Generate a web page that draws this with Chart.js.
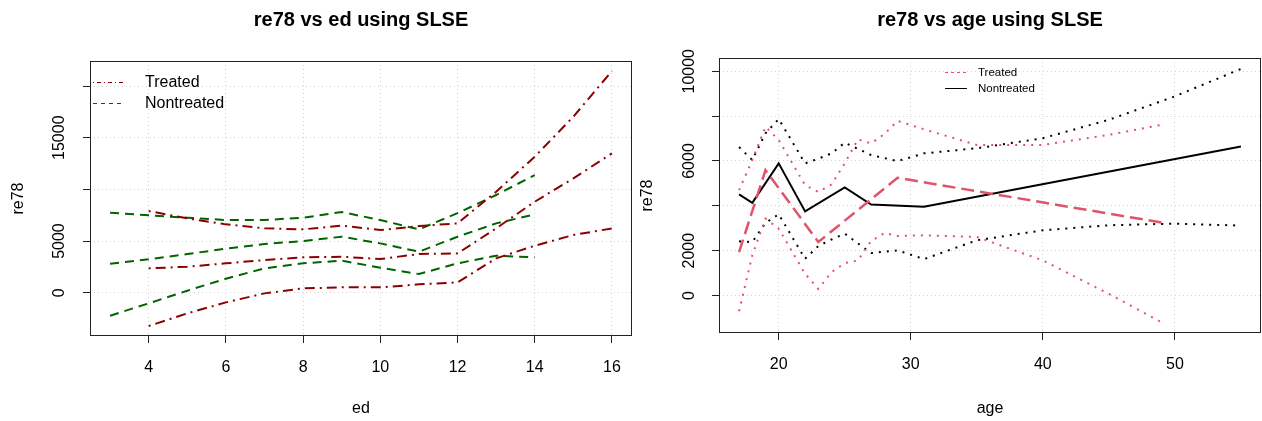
<!DOCTYPE html>
<html>
<head>
<meta charset="utf-8">
<script src="https://cdn.jsdelivr.net/npm/chart.js@4.4.0/dist/chart.umd.min.js"></script>
<style>
  html, body { margin: 0; padding: 0; background: #fff; }
  #wrap { position: relative; width: 1262px; height: 421px; }
  canvas { position: absolute; top: 0; }
</style>
</head>
<body>
<div id="wrap">
  <canvas id="chartEd" width="636" height="421" style="left:0"></canvas>
  <canvas id="chartAge" width="626" height="421" style="left:636px"></canvas>
</div>
<script>
// ---- re78 vs ed ----
const edTreated = [4, 5, 6, 7, 8, 9, 10, 11, 12, 13, 14, 15, 16];
const trEdUpper = [7903, 7194, 6613, 6226, 6129, 6484, 6065, 6452, 6710, 9774, 13161, 17032, 21452];
const trEdMean  = [2355, 2516, 2839, 3161, 3419, 3484, 3258, 3742, 3806, 6226, 8806, 11065, 13484];
const trEdLower = [-3226, -2000, -935, -65, 419, 516, 516, 806, 1000, 3323, 4548, 5581, 6226];

const edNontreated = [3, 4, 5, 6, 7, 8, 9, 10, 11, 12, 13, 14];
const ntEdUpper = [7742, 7484, 7258, 7032, 7032, 7258, 7806, 7032, 6129, 7700, 9452, 11387];
const ntEdMean  = [2806, 3226, 3742, 4258, 4710, 5000, 5419, 4774, 3968, 5419, 6710, 7581];
const ntEdLower = [-2226, -1032, 194, 1355, 2355, 2839, 3097, 2419, 1806, 2839, 3581, 3419];

const edXTicks = [4, 6, 8, 10, 12, 14, 16];
const edYTicks = [0, 5000, 10000, 15000, 20000];
const edYLabelled = [0, 5000, 15000];

// ---- re78 vs age ----
const ageTrCI = [17, 18, 19, 20, 22, 23, 24, 25, 26, 27, 28, 29, 31, 35, 40, 45, 49];
const trAgeUpper = [4698, 6040, 7530, 6935, 4922, 4622, 4952, 5893, 6966, 6786, 7200, 7785, 7413, 6716, 6716, 7164, 7612];
const trAgeLower = [-700, 1800, 3430, 2983, 970, 299, 1044, 1447, 1566, 2431, 2789, 2655, 2685, 2612, 1567, 75, -1194];
const ageTrMean = [17, 19, 23, 29, 49];
const trAgeMean = [1938, 5593, 2386, 5249, 3254];

const ageNtCI = [17, 18, 19, 20, 22, 23, 24, 25, 27, 29, 31, 35, 40, 45, 50, 55];
const ntAgeUpper = [6620, 6040, 7235, 7870, 5893, 6100, 6340, 6816, 6264, 5996, 6340, 6567, 7015, 7836, 8881, 10104];
const ntAgeLower = [2416, 2386, 3236, 3624, 1641, 2207, 2500, 2759, 1894, 2013, 1626, 2463, 2910, 3134, 3209, 3119];
const ageNtMean = [17, 18, 20, 22, 25, 27, 31, 55];
const ntAgeMean = [4510, 4130, 5895, 3750, 4825, 4060, 3960, 6642];

const ageXTicks = [20, 30, 40, 50];
const ageYTicks = [0, 2000, 4000, 6000, 8000, 10000];
const ageYLabelled = [0, 2000, 6000, 10000];

const FONT = '"Liberation Sans", Arial, Helvetica, sans-serif';

function pts(xs, ys) {
  return xs.map((x, i) => ({ x: x, y: ys[i] }));
}

function series(label, xs, ys, color, dash, width) {
  return {
    label: label,
    data: pts(xs, ys),
    borderColor: color,
    backgroundColor: color,
    borderWidth: width,
    borderDash: dash,
    pointRadius: 0,
    tension: 0,
    fill: false,
    xAxisID: 'x',
    yAxisID: 'y'
  };
}

const plotBox = {
  id: 'plotBox',
  afterDraw(chart) {
    const { ctx, chartArea: a } = chart;
    ctx.save();
    ctx.strokeStyle = '#222';
    ctx.lineWidth = 1;
    ctx.setLineDash([]);
    ctx.strokeRect(Math.round(a.left) + 0.5, Math.round(a.top) + 0.5,
      Math.round(a.right - a.left) - 1, Math.round(a.bottom - a.top) - 1);
    ctx.restore();
  }
};

// small legend inside the plot, drawn from the datasets' labels and colours
const lineLegend = {
  id: 'lineLegend',
  afterDraw(chart, args, opts) {
    if (!opts.items) return;
    const { ctx, chartArea: a } = chart;
    ctx.save();
    ctx.font = opts.font;
    ctx.textBaseline = 'middle';
    ctx.textAlign = 'left';
    opts.items.forEach((it, i) => {
      const ds = chart.data.datasets[it.dataset];
      const y = Math.round(a.top + opts.top + i * opts.rowHeight) + 0.5;
      const x0 = a.left + opts.left;
      ctx.beginPath();
      ctx.setLineDash(it.dash);
      ctx.lineWidth = it.width;
      ctx.strokeStyle = ds.borderColor;
      ctx.moveTo(x0, y);
      ctx.lineTo(x0 + opts.sample, y);
      ctx.stroke();
      ctx.setLineDash([]);
      ctx.fillStyle = '#000';
      ctx.fillText(ds.label, x0 + opts.textOffset, y);
    });
    ctx.restore();
  }
};

function makeChart(id, cfg) {
  return new Chart(document.getElementById(id), {
    type: 'line',
    data: { datasets: cfg.datasets },
    plugins: [plotBox, lineLegend],
    options: {
      responsive: false,
      animation: false,
      layout: { padding: { left: 0, right: cfg.padRight, top: 0, bottom: 0 } },
      plugins: {
        legend: { display: false },
        tooltip: { enabled: false },
        title: { display: false },
        lineLegend: cfg.legend
      },
      scales: {
        // empty top axis, only used to carry the title centred over the plot
        top: {
          type: 'linear',
          position: 'top',
          axis: 'x',
          min: cfg.xMin,
          max: cfg.xMax,
          afterFit: s => { s.height = cfg.topHeight; },
          border: { display: false },
          grid: { display: false },
          ticks: { display: false },
          title: {
            display: true,
            text: cfg.title,
            color: '#000',
            font: { family: FONT, size: 20, weight: 'bold' },
            padding: { top: 8, bottom: 0 }
          }
        },
        x: {
          type: 'linear',
          position: 'bottom',
          min: cfg.xMin,
          max: cfg.xMax,
          afterFit: s => { s.height = cfg.xHeight; },
          afterBuildTicks: s => { s.ticks = cfg.xTicks.map(v => ({ value: v })); },
          border: { display: false, dash: [1, 3] },
          grid: { color: '#d3d3d3', lineWidth: 1, tickColor: '#222', tickBorderDash: [], tickLength: 7 },
          ticks: {
            autoSkip: false,
            maxRotation: 0,
            padding: 15,
            color: '#000',
            font: { family: FONT, size: 16 }
          },
          title: {
            display: true,
            text: cfg.xTitle,
            color: '#000',
            font: { family: FONT, size: 16 },
            padding: { top: 0, bottom: 3 }
          }
        },
        y: {
          type: 'linear',
          position: 'left',
          min: cfg.yMin,
          max: cfg.yMax,
          afterFit: s => { s.width = cfg.yWidth; },
          afterBuildTicks: s => { s.ticks = cfg.yTicks.map(v => ({ value: v })); },
          border: { display: false, dash: [1, 3] },
          grid: { color: '#d3d3d3', lineWidth: 1, tickColor: '#222', tickBorderDash: [], tickLength: 7 },
          ticks: {
            autoSkip: false,
            minRotation: 90,
            maxRotation: 90,
            crossAlign: 'center',
            padding: cfg.yTickPad,
            color: '#000',
            font: { family: FONT, size: 16 },
            callback: v => (cfg.yLabelled.includes(v) ? String(v) : '')
          },
          title: {
            display: true,
            text: 're78',
            color: '#000',
            font: { family: FONT, size: 16 },
            padding: { top: cfg.yTitlePad, bottom: 0 }
          }
        }
      }
    }
  });
}

const DARKRED = '#8B0000';
const DARKGREEN = '#006400';
const PINK = '#DF536B';
const DOTDASH = [2, 5, 10, 5];
const DASHED = [9, 6];

makeChart('chartEd', {
  title: 're78 vs ed using SLSE',
  xTitle: 'ed',
  datasets: [
    series('Treated', edTreated, trEdMean, DARKRED, DOTDASH, 2),
    series('Treated upper', edTreated, trEdUpper, DARKRED, DOTDASH, 2),
    series('Treated lower', edTreated, trEdLower, DARKRED, DOTDASH, 2),
    series('Nontreated', edNontreated, ntEdMean, DARKGREEN, DASHED, 2),
    series('Nontreated upper', edNontreated, ntEdUpper, DARKGREEN, DASHED, 2),
    series('Nontreated lower', edNontreated, ntEdLower, DARKGREEN, DASHED, 2)
  ],
  xMin: 2.48, xMax: 16.52, xTicks: edXTicks,
  yMin: -4190, yMax: 22422, yTicks: edYTicks,
  yLabelled: edYLabelled,
  padRight: 3, topHeight: 61, xHeight: 85, yWidth: 90, yTickPad: 1, yTitlePad: 9,
  legend: {
    font: '16px ' + FONT, left: 3, top: 21, rowHeight: 21, sample: 32, textOffset: 52,
    items: [
      { dataset: 0, dash: [1, 3, 4, 3], width: 1 },
      { dataset: 3, dash: [4, 4], width: 1 }
    ]
  }
});

makeChart('chartAge', {
  title: 're78 vs age using SLSE',
  xTitle: 'age',
  datasets: [
    series('Treated upper', ageTrCI, trAgeUpper, PINK, [2, 6], 2),
    series('Treated lower', ageTrCI, trAgeLower, PINK, [2, 6], 2),
    series('Nontreated upper', ageNtCI, ntAgeUpper, '#000', [2, 6], 2),
    series('Nontreated lower', ageNtCI, ntAgeLower, '#000', [2, 6], 2),
    series('Treated', ageTrMean, trAgeMean, PINK, [13, 6], 2.5),
    series('Nontreated', ageNtMean, ntAgeMean, '#000', [], 2)
  ],
  xMin: 15.48, xMax: 56.52, xTicks: ageXTicks,
  yMin: -1669, yMax: 10591, yTicks: ageYTicks,
  yLabelled: ageYLabelled,
  padRight: 1, topHeight: 58, xHeight: 88, yWidth: 83, yTickPad: 0, yTitlePad: 2.4,
  legend: {
    font: '11.5px ' + FONT, left: 226, top: 14, rowHeight: 16, sample: 22, textOffset: 33,
    items: [
      { dataset: 4, dash: [3, 3], width: 1 },
      { dataset: 5, dash: [], width: 1 }
    ]
  }
});
</script>
</body>
</html>
